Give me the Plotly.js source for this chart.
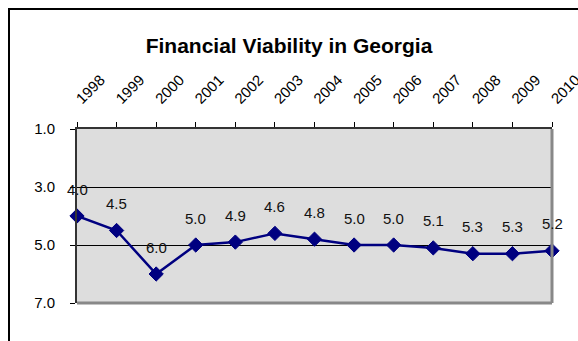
<!DOCTYPE html>
<html>
<head>
<meta charset="utf-8">
<script src="https://cdn.plot.ly/plotly-3.0.1.min.js"></script>
<style>
  html, body { margin: 0; padding: 0; background: #fff; overflow: hidden; }
  #wrap { position: relative; width: 578px; height: 341px; }
  #chart { position: absolute; left: 0; top: 0; width: 578px; height: 341px; }
  #frame { position: absolute; left: 8px; top: 8px; width: 600px; height: 400px;
           border-left: 2px solid #000; border-top: 2px solid #000; pointer-events: none; }
</style>
</head>
<body>
<div id="wrap">
  <div id="chart"></div>
  <div id="frame"></div>
</div>
<script>
const years = ["1998","1999","2000","2001","2002","2003","2004","2005","2006","2007","2008","2009","2010"];
const scores = [4.0, 4.5, 6.0, 5.0, 4.9, 4.6, 4.8, 5.0, 5.0, 5.1, 5.3, 5.3, 5.2];
const yTicks = [1, 3, 5, 7];
const chartTitle = "Financial Viability in Georgia";

const FONT = "Arial, 'Liberation Sans', sans-serif";

const trace = {
  x: years,
  y: scores,
  type: "scatter",
  mode: "lines+markers",
  line: { color: "#000080", width: 2.5 },
  marker: { symbol: "diamond", size: 11, color: "#000080", line: { color: "#000080", width: 1 } },
  hoverinfo: "skip",
  cliponaxis: false
};

const annotations = years.map((yr, i) => ({
  x: i, y: scores[i], xref: "x", yref: "y",
  text: scores[i].toFixed(1),
  showarrow: false, yshift: 27,
  font: { family: FONT, size: 15, color: "#111" }
}));

const layout = {
  width: 578, height: 341,
  margin: { l: 77, r: 26, t: 129, b: 38 },
  paper_bgcolor: "#fff",
  plot_bgcolor: "#dddddd",
  showlegend: false,
  font: { family: FONT, color: "#000" },
  title: {
    text: "<b>" + chartTitle + "</b>",
    font: { family: FONT, size: 21, color: "#000" },
    x: 0.5, xref: "container", xanchor: "center",
    y: 1 - 46 / 341, yref: "container", yanchor: "middle"
  },
  xaxis: {
    type: "category",
    side: "top",
    range: [0, years.length - 1],
    showgrid: false,
    zeroline: false,
    showline: true, linecolor: "#333", linewidth: 2,
    ticks: "outside", ticklen: 5, tickcolor: "#000", tickwidth: 1,
    tickangle: -45,
    ticklabelstandoff: 9,
    tickfont: { family: FONT, size: 15, color: "#000" }
  },
  yaxis: {
    range: [7, 1],
    tickmode: "array",
    tickvals: yTicks,
    ticktext: yTicks.map(v => v.toFixed(1)),
    showgrid: true, gridcolor: "#000", gridwidth: 1,
    zeroline: false,
    showline: true, linecolor: "#333", linewidth: 2,
    ticks: "outside", ticklen: 5, tickcolor: "#000", tickwidth: 1,
    ticklabelstandoff: 12,
    tickfont: { family: FONT, size: 15, color: "#000" }
  },
  shapes: [
    { type: "line", xref: "paper", yref: "paper", x0: 1, x1: 1, y0: 0, y1: 1,
      line: { color: "#888", width: 3 }, layer: "above" },
    { type: "line", xref: "paper", yref: "paper", x0: 0, x1: 1, y0: 0, y1: 0,
      line: { color: "#888", width: 3 }, layer: "above" }
  ],
  annotations: annotations
};

Plotly.newPlot("chart", [trace], layout, { staticPlot: true, displayModeBar: false });
</script>
</body>
</html>
